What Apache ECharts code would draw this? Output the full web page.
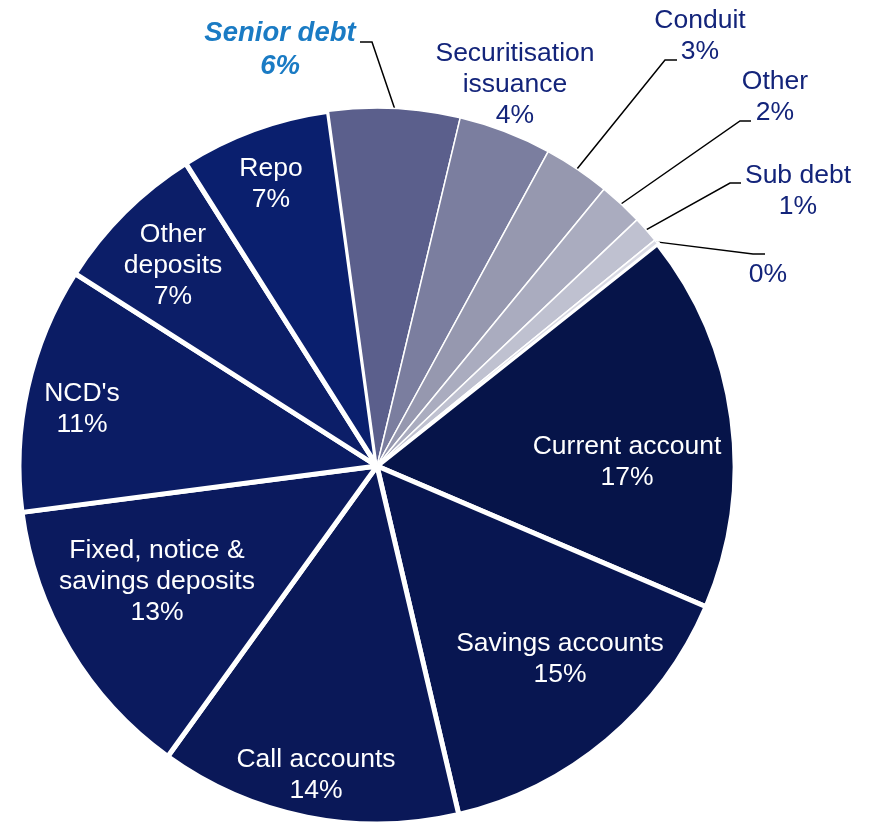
<!DOCTYPE html>
<html>
<head>
<meta charset="utf-8">
<script src="https://cdn.jsdelivr.net/npm/echarts@6/dist/echarts.min.js"></script>
<style>
  html, body { margin: 0; padding: 0; background: #ffffff; }
  #chart { width: 875px; height: 824px; }
</style>
</head>
<body>
<div id="chart"></div>
<script>
// Funding mix by source, in percent of total funding
const categories = [
  'Current account', 'Savings accounts', 'Call accounts',
  'Fixed, notice &\nsavings deposits', "NCD's", 'Other\ndeposits', 'Repo',
  'Senior debt', 'Securitisation\nissuance', 'Conduit', 'Other', 'Sub debt', ''
];
const shares = [17.1, 14.9, 13.6, 13.0, 11.1, 7.0, 6.8, 5.9, 4.2, 3.0, 2.0, 1.2, 0.2];

// Deposit funding in dark navy, wholesale funding in fading greys
const sliceColors = [
  '#061449', '#081651', '#0a1858', '#0b1a5e', '#0b1c64', '#0c1e68', '#0a1f6e',
  '#5b5f8c', '#7b7e9f', '#9698af', '#aaacbf', '#bfc1d0', '#d9dae4'
];
const outsideLabels = [false, false, false, false, false, false, false, true, true, true, true, true, true];

// Layout: pie geometry, label block centres and leader-line elbows (offsets from the pie centre)
const CX = 377, CY = 466, R = 358, START = 38.4;
const labelSpots = [
  [250, -4], [183, 193], [-61, 309], [-220, 116], [-295, -57], [-204, -200], [-106, -282],
  [-97, -416], [138, -381], [323, -430], [398, -369], [421, -275], [391, -191]
];
const elbows = {
  7: [[-5, -424], [-17, -424]],
  9: [[288, -406], [300, -406]],
  10: [[363, -345], [374, -345]],
  11: [[353, -283], [364, -283]],
  12: [[376, -212], [388, -212]]
};

const total = shares.reduce((a, b) => a + b, 0);
function midAngle(i) {
  let cum = 0;
  for (let k = 0; k < i; k++) cum += shares[k];
  return (START - 360 * (cum + shares[i] / 2) / total) * Math.PI / 180;
}

const FONT = '"Liberation Sans", Arial, sans-serif';

const seriesData = categories.map((name, i) => {
  const isOut = outsideLabels[i];
  const item = {
    name: name,
    value: shares[i],
    itemStyle: {
      color: sliceColors[i],
      borderColor: '#ffffff',
      borderWidth: i < 7 ? 5 : 1.5
    },
    label: {
      position: isOut ? 'outside' : 'inside',
      color: isOut ? '#13247a' : '#ffffff'
    },
    labelLine: { show: isOut && i !== 8 }
  };
  if (i === 7) {
    item.label.color = '#1a7bc4';
    item.label.fontWeight = 'bold';
    item.label.fontStyle = 'italic';
    item.label.fontSize = 27.5;
    item.label.lineHeight = 33;
  }
  return item;
});

const chart = echarts.init(document.getElementById('chart'), null, { renderer: 'canvas' });
chart.setOption({
  animation: false,
  backgroundColor: '#ffffff',
  series: [{
    type: 'pie',
    center: [CX, CY],
    radius: [0, R],
    startAngle: START,
    clockwise: true,
    avoidLabelOverlap: false,
    silent: true,
    data: seriesData,
    label: {
      fontFamily: FONT,
      fontSize: 26.5,
      lineHeight: 31,
      align: 'center',
      formatter: p => (p.name ? p.name + '\n' : '') + Math.round(p.value) + '%'
    },
    labelLine: {
      length: 20,
      length2: 10,
      lineStyle: { color: '#000000', width: 1.5 }
    },
    labelLayout: function (params) {
      const i = params.dataIndex;
      const spot = labelSpots[i];
      const out = {
        x: CX + spot[0],
        y: CY + spot[1],
        align: 'center',
        verticalAlign: 'middle'
      };
      if (elbows[i]) {
        const a = midAngle(i);
        out.labelLinePoints = [
          [CX + R * Math.cos(a), CY - R * Math.sin(a)],
          [CX + elbows[i][0][0], CY + elbows[i][0][1]],
          [CX + elbows[i][1][0], CY + elbows[i][1][1]]
        ];
      }
      return out;
    }
  }]
});
</script>
</body>
</html>
